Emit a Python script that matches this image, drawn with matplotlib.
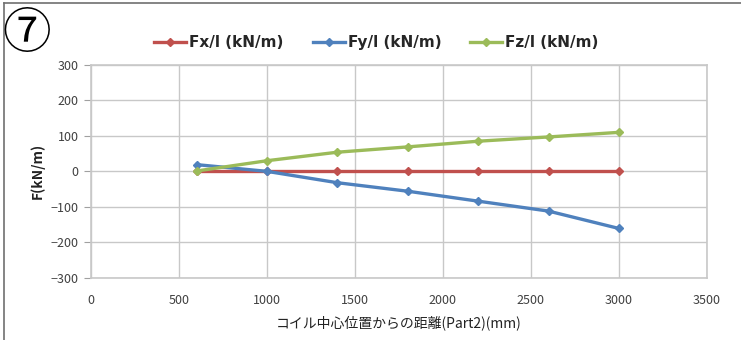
import matplotlib.pyplot as plt
from matplotlib.lines import Line2D

# distance from coil centre (mm)
distance = [600, 1000, 1400, 1800, 2200, 2600, 3000]
fx = [0, 0, 0, 0, 0, 0, 0]
fy = [19, 0, -32, -56, -84, -112, -161]
fz = [1, 30, 54, 69, 85, 97, 110]

series = [
    ("Fx/l (kN/m)", fx, "#C0504D"),
    ("Fy/l (kN/m)", fy, "#4F81BD"),
    ("Fz/l (kN/m)", fz, "#9BBB59"),
]

x_ticks = [0, 500, 1000, 1500, 2000, 2500, 3000, 3500]
y_ticks = [-300, -200, -100, 0, 100, 200, 300]

plt.rcParams["font.family"] = ["Noto Sans CJK JP", "DejaVu Sans"]

fig = plt.figure(figsize=(7.41, 3.40), dpi=100)
ax = fig.add_axes([0.1228, 0.183, 0.8312, 0.626])

for label, vals, color in series:
    ax.plot(distance, vals, color=color, lw=2.4, marker="D", ms=4.5,
            label=label, zorder=3)

ax.set_xlim(0, 3500)
ax.set_ylim(-300, 300)
ax.set_xticks(x_ticks)
ax.set_yticks(y_ticks)
ax.grid(True, color="#C8C8C8", lw=1)
ax.set_axisbelow(True)
for s in ax.spines.values():
    s.set_color("#C8C8C8")
    s.set_linewidth(1.2)
ax.tick_params(axis="y", length=5, color="#A0A0A0", labelsize=9,
               labelcolor="#404040", pad=4)
ax.tick_params(axis="x", length=0, labelsize=9, labelcolor="#404040", pad=12)

ax.set_ylabel("F(kN/m)", fontsize=10, fontweight="bold", color="#222222",
              labelpad=4)
ax.set_xlabel("コイル中心位置からの距離(Part2)(mm)", fontsize=10,
              color="#222222", labelpad=6)

leg = fig.legend(loc="center", bbox_to_anchor=(0.508, 0.875), ncol=3,
                 frameon=False, handlelength=2.1, handletextpad=0.2,
                 columnspacing=1.9,
                 prop={"family": "DejaVu Sans", "weight": "bold", "size": 11})
for t in leg.get_texts():
    t.set_color("#262626")

# circled number
fig.text(0.003, 0.9, "⑦", fontsize=35, ha="left", va="center", color="black")

# outer frame (top and left only)
fig.add_artist(Line2D([0.006, 1.0], [0.99, 0.99], color="#707070", lw=1.2,
                      transform=fig.transFigure))
fig.add_artist(Line2D([0.006, 0.006], [0.0, 0.99], color="#707070", lw=1.2,
                      transform=fig.transFigure))

fig.savefig("out.png", dpi=100)
